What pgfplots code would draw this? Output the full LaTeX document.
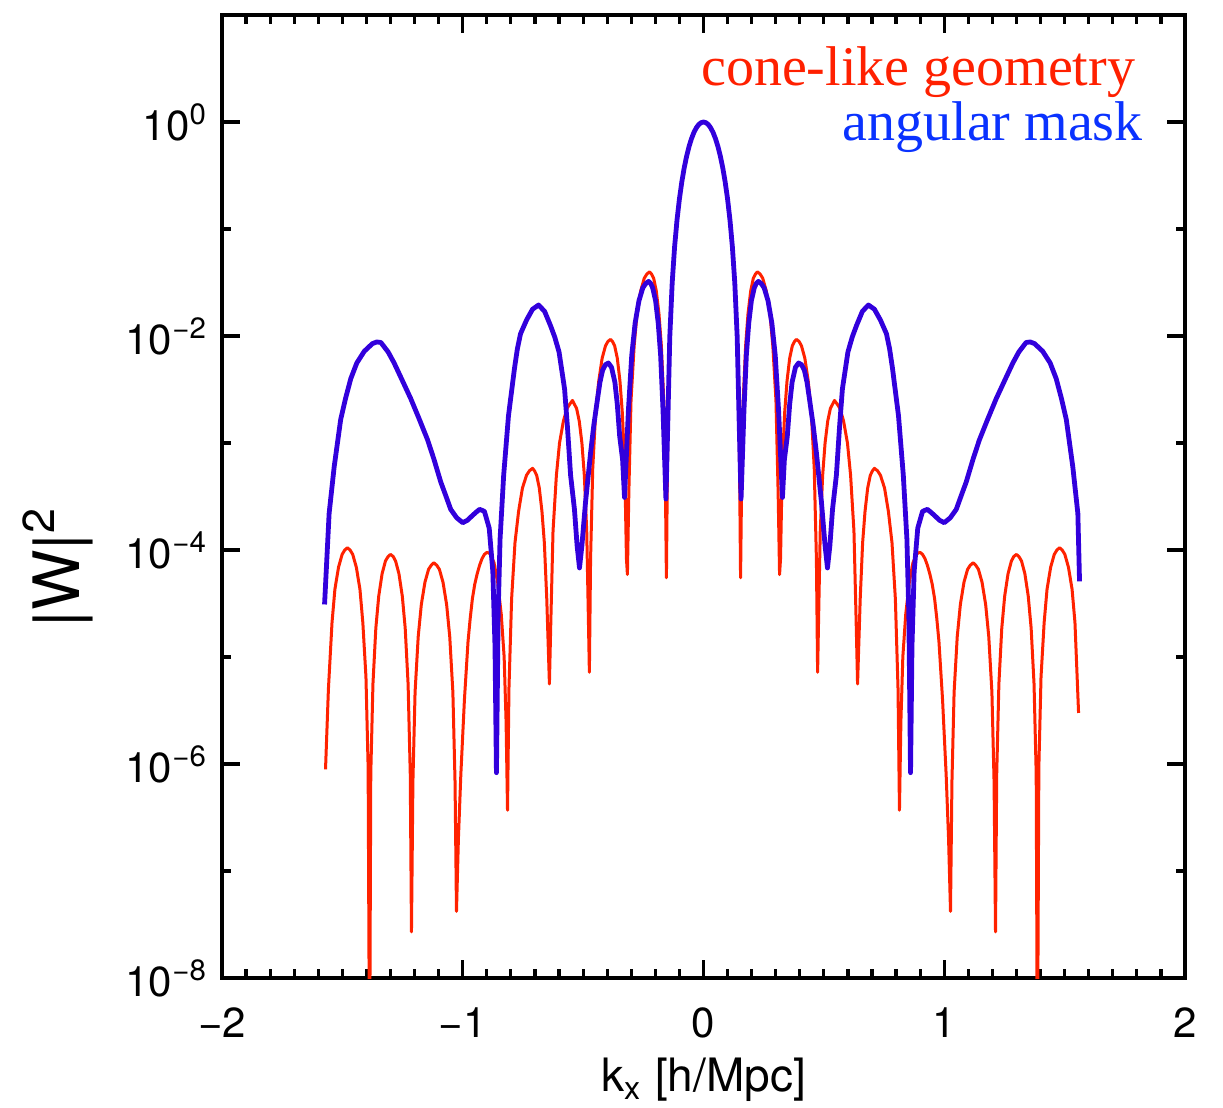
\documentclass[border=0pt]{standalone}
\usepackage{fontspec}
\setmainfont{TeX Gyre Heros}
\newfontfamily\legendfont{Liberation Serif}
\usepackage{pgfplots}
\pgfplotsset{compat=1.18}
\usepackage{pgfplotstable}
\definecolor{curvered}{RGB}{255,34,0}
\definecolor{curveblue}{RGB}{50,0,220}
\definecolor{legred}{RGB}{255,32,0}
\definecolor{legblue}{RGB}{10,50,255}

\pgfplotstableread{
k W
-1.570 8.9e-7
-1.558 5.0e-6
-1.543 2.1e-5
-1.531 4.3e-5
-1.516 6.9e-5
-1.501 9.1e-5
-1.490 1.0e-4
-1.479 1.05e-4
-1.468 1.0e-4
-1.457 9.1e-5
-1.442 6.9e-5
-1.427 4.3e-5
-1.415 2.1e-5
-1.402 6.5e-6
-1.393 9.3e-7
-1.387 1e-9
-1.382 8.1e-7
-1.373 5.6e-6
-1.361 1.86e-5
-1.349 3.7e-5
-1.335 6.0e-5
-1.321 7.9e-5
-1.310 8.7e-5
-1.300 9.1e-5
-1.289 8.7e-5
-1.279 7.9e-5
-1.265 6.0e-5
-1.251 3.7e-5
-1.239 1.86e-5
-1.227 5.6e-6
-1.218 8.1e-7
-1.213 2.7e-8
-1.207 6.8e-7
-1.198 4.7e-6
-1.185 1.55e-5
-1.172 3.1e-5
-1.157 5.0e-5
-1.142 6.6e-5
-1.131 7.2e-5
-1.120 7.6e-5
-1.108 7.2e-5
-1.097 6.6e-5
-1.082 5.0e-5
-1.067 3.1e-5
-1.054 1.55e-5
-1.041 4.7e-6
-1.032 6.8e-7
-1.026 4.2e-8
-1.018 2.0e-7
-1.008 7.9e-7
-0.993 4.0e-6
-0.978 1.4e-5
-0.969 2.3e-5
-0.960 3.5e-5
-0.950 4.8e-5
-0.940 6.0e-5
-0.930 7.2e-5
-0.920 8.3e-5
-0.910 9.1e-5
-0.900 9.5e-5
-0.892 9.4e-5
-0.885 9.1e-5
-0.870 7.6e-5
-0.855 5.0e-5
-0.840 2.5e-5
-0.828 1.0e-5
-0.820 2.5e-6
-0.814 3.7e-7
-0.808 5.1e-6
-0.797 3.5e-5
-0.783 1.17e-4
-0.768 2.3e-4
-0.752 3.8e-4
-0.735 5.0e-4
-0.723 5.5e-4
-0.710 5.8e-4
-0.702 5.5e-4
-0.693 5.0e-4
-0.682 3.8e-4
-0.671 2.3e-4
-0.661 1.17e-4
-0.651 3.5e-5
-0.640 5.6e-6
-0.634 2.2e-5
-0.625 1.5e-4
-0.611 5.0e-4
-0.598 1.0e-3
-0.582 1.6e-3
-0.567 2.1e-3
-0.556 2.3e-3
-0.544 2.5e-3
-0.536 2.3e-3
-0.527 2.1e-3
-0.516 1.6e-3
-0.505 1.0e-3
-0.495 5.0e-4
-0.485 1.5e-4
-0.478 2.2e-5
-0.474 7.2e-6
-0.469 8.3e-5
-0.460 5.8e-4
-0.448 1.9e-3
-0.435 3.8e-3
-0.421 6.2e-3
-0.407 8.1e-3
-0.397 8.9e-3
-0.386 9.3e-3
-0.378 8.9e-3
-0.369 8.1e-3
-0.358 6.2e-3
-0.347 3.8e-3
-0.337 1.9e-3
-0.327 5.8e-4
-0.320 8.3e-5
-0.316 5.9e-5
-0.310 3.5e-4
-0.301 2.5e-3
-0.288 8.1e-3
-0.276 0.0162
-0.261 0.0263
-0.246 0.0347
-0.235 0.0380
-0.224 0.0398
-0.216 0.0380
-0.207 0.0347
-0.196 0.0263
-0.185 0.0162
-0.175 8.1e-3
-0.165 2.5e-3
-0.158 3.5e-4
-0.154 5.5e-5
-0.148 0.00164
-0.140 0.0098
-0.130 0.0314
-0.120 0.0682
-0.110 0.1212
-0.100 0.191
-0.090 0.276
-0.080 0.374
-0.070 0.480
-0.060 0.590
-0.050 0.698
-0.040 0.797
-0.030 0.8815
-0.020 0.946
-0.010 0.986
0.000 1
0.010 0.986
0.020 0.946
0.030 0.8815
0.040 0.797
0.050 0.698
0.060 0.590
0.070 0.480
0.080 0.374
0.090 0.276
0.100 0.191
0.110 0.1212
0.120 0.0682
0.130 0.0314
0.140 0.0098
0.148 0.00164
0.154 5.5e-5
0.158 3.5e-4
0.165 2.5e-3
0.175 8.1e-3
0.185 0.0162
0.196 0.0263
0.207 0.0347
0.216 0.0380
0.224 0.0398
0.235 0.0380
0.246 0.0347
0.261 0.0263
0.276 0.0162
0.288 8.1e-3
0.301 2.5e-3
0.310 3.5e-4
0.316 5.9e-5
0.320 8.3e-5
0.327 5.8e-4
0.337 1.9e-3
0.347 3.8e-3
0.358 6.2e-3
0.369 8.1e-3
0.378 8.9e-3
0.386 9.3e-3
0.397 8.9e-3
0.407 8.1e-3
0.421 6.2e-3
0.435 3.8e-3
0.448 1.9e-3
0.460 5.8e-4
0.469 8.3e-5
0.474 7.2e-6
0.478 2.2e-5
0.485 1.5e-4
0.495 5.0e-4
0.505 1.0e-3
0.516 1.6e-3
0.527 2.1e-3
0.536 2.3e-3
0.544 2.5e-3
0.556 2.3e-3
0.567 2.1e-3
0.582 1.6e-3
0.598 1.0e-3
0.611 5.0e-4
0.625 1.5e-4
0.634 2.2e-5
0.640 5.6e-6
0.651 3.5e-5
0.661 1.17e-4
0.671 2.3e-4
0.682 3.8e-4
0.693 5.0e-4
0.702 5.5e-4
0.710 5.8e-4
0.723 5.5e-4
0.735 5.0e-4
0.752 3.8e-4
0.768 2.3e-4
0.783 1.17e-4
0.797 3.5e-5
0.808 5.1e-6
0.814 3.7e-7
0.820 2.5e-6
0.828 1.0e-5
0.840 2.5e-5
0.855 5.0e-5
0.870 7.6e-5
0.885 9.1e-5
0.892 9.4e-5
0.900 9.5e-5
0.910 9.1e-5
0.920 8.3e-5
0.930 7.2e-5
0.940 6.0e-5
0.950 4.8e-5
0.960 3.5e-5
0.969 2.3e-5
0.978 1.4e-5
0.993 4.0e-6
1.008 7.9e-7
1.018 2.0e-7
1.026 4.2e-8
1.032 6.8e-7
1.041 4.7e-6
1.054 1.55e-5
1.067 3.1e-5
1.082 5.0e-5
1.097 6.6e-5
1.108 7.2e-5
1.120 7.6e-5
1.131 7.2e-5
1.142 6.6e-5
1.157 5.0e-5
1.172 3.1e-5
1.185 1.55e-5
1.198 4.7e-6
1.207 6.8e-7
1.213 2.7e-8
1.218 8.1e-7
1.227 5.6e-6
1.239 1.86e-5
1.251 3.7e-5
1.265 6.0e-5
1.279 7.9e-5
1.289 8.7e-5
1.300 9.1e-5
1.310 8.7e-5
1.321 7.9e-5
1.335 6.0e-5
1.349 3.7e-5
1.361 1.86e-5
1.373 5.6e-6
1.382 8.1e-7
1.387 1e-9
1.393 9.3e-7
1.402 6.5e-6
1.415 2.1e-5
1.427 4.3e-5
1.442 6.9e-5
1.457 9.1e-5
1.468 1.0e-4
1.479 1.05e-4
1.490 1.0e-4
1.501 9.1e-5
1.516 6.9e-5
1.531 4.3e-5
1.543 2.1e-5
1.558 3.0e-6
}\redtable

\pgfplotstableread{
k W
-1.574 3.1e-5
-1.555 2.2e-4
-1.534 6.0e-4
-1.507 1.66e-3
-1.487 2.6e-3
-1.465 4.0e-3
-1.440 5.6e-3
-1.409 7.2e-3
-1.375 8.5e-3
-1.357 8.8e-3
-1.340 8.7e-3
-1.310 7.1e-3
-1.285 5.6e-3
-1.250 3.8e-3
-1.216 2.6e-3
-1.180 1.66e-3
-1.146 1.07e-3
-1.120 7.1e-4
-1.091 4.3e-4
-1.070 3.2e-4
-1.050 2.4e-4
-1.025 2.0e-4
-1.000 1.8e-4
-0.980 1.9e-4
-0.960 2.1e-4
-0.945 2.25e-4
-0.930 2.4e-4
-0.910 2.3e-4
-0.890 1.6e-4
-0.875 6.3e-5
-0.866 1.26e-5
-0.860 8.3e-7
-0.853 2.5e-5
-0.845 1.26e-4
-0.830 5.0e-4
-0.810 1.8e-3
-0.785 5.0e-3
-0.773 7.6e-3
-0.760 0.0105
-0.735 0.0141
-0.710 0.0178
-0.685 0.0195
-0.660 0.0170
-0.636 0.0126
-0.618 9.8e-3
-0.600 7.1e-3
-0.577 3.2e-3
-0.565 1.4e-3
-0.552 5.0e-4
-0.536 2.4e-4
-0.525 1.1e-4
-0.515 6.8e-5
-0.505 1.1e-4
-0.490 2.8e-4
-0.469 8.1e-4
-0.455 1.5e-3
-0.440 2.6e-3
-0.430 3.7e-3
-0.419 4.8e-3
-0.407 5.4e-3
-0.395 5.6e-3
-0.382 5.1e-3
-0.368 3.7e-3
-0.358 2.3e-3
-0.348 1.15e-3
-0.336 7.0e-4
-0.328 3.1e-4
-0.312 2.0e-3
-0.298 6.6e-3
-0.284 0.0132
-0.268 0.0214
-0.252 0.0282
-0.240 0.0309
-0.228 0.0324
-0.219 0.0309
-0.211 0.0282
-0.199 0.0214
-0.188 0.0132
-0.178 6.6e-3
-0.168 2.0e-3
-0.156 3.0e-4
-0.148 0.00164
-0.140 0.0098
-0.130 0.0314
-0.120 0.0682
-0.110 0.1212
-0.100 0.191
-0.090 0.276
-0.080 0.374
-0.070 0.480
-0.060 0.590
-0.050 0.698
-0.040 0.797
-0.030 0.8815
-0.020 0.946
-0.010 0.986
0.000 1
0.010 0.986
0.020 0.946
0.030 0.8815
0.040 0.797
0.050 0.698
0.060 0.590
0.070 0.480
0.080 0.374
0.090 0.276
0.100 0.191
0.110 0.1212
0.120 0.0682
0.130 0.0314
0.140 0.0098
0.148 0.00164
0.156 3.0e-4
0.168 2.0e-3
0.178 6.6e-3
0.188 0.0132
0.199 0.0214
0.211 0.0282
0.219 0.0309
0.228 0.0324
0.240 0.0309
0.252 0.0282
0.268 0.0214
0.284 0.0132
0.298 6.6e-3
0.312 2.0e-3
0.328 3.1e-4
0.336 7.0e-4
0.348 1.15e-3
0.358 2.3e-3
0.368 3.7e-3
0.382 5.1e-3
0.395 5.6e-3
0.407 5.4e-3
0.419 4.8e-3
0.430 3.7e-3
0.440 2.6e-3
0.455 1.5e-3
0.469 8.1e-4
0.490 2.8e-4
0.505 1.1e-4
0.515 6.8e-5
0.525 1.1e-4
0.536 2.4e-4
0.552 5.0e-4
0.565 1.4e-3
0.577 3.2e-3
0.600 7.1e-3
0.618 9.8e-3
0.636 0.0126
0.660 0.0170
0.685 0.0195
0.710 0.0178
0.735 0.0141
0.760 0.0105
0.773 7.6e-3
0.785 5.0e-3
0.810 1.8e-3
0.830 5.0e-4
0.845 1.26e-4
0.853 2.5e-5
0.860 8.3e-7
0.866 1.26e-5
0.875 6.3e-5
0.890 1.6e-4
0.910 2.3e-4
0.930 2.4e-4
0.945 2.25e-4
0.960 2.1e-4
0.980 1.9e-4
1.000 1.8e-4
1.025 2.0e-4
1.050 2.4e-4
1.070 3.2e-4
1.091 4.3e-4
1.120 7.1e-4
1.146 1.07e-3
1.180 1.66e-3
1.216 2.6e-3
1.250 3.8e-3
1.285 5.6e-3
1.310 7.1e-3
1.340 8.7e-3
1.357 8.8e-3
1.375 8.5e-3
1.409 7.2e-3
1.440 5.6e-3
1.465 4.0e-3
1.487 2.6e-3
1.507 1.66e-3
1.534 6.0e-4
1.555 2.2e-4
1.562 5.1e-5
}\bluetable

\begin{document}
\begin{tikzpicture}
\useasboundingbox (-55.5pt,-32.25pt) rectangle (250.25pt,244.5pt);
\begin{axis}[
  at={(0pt,0pt)}, anchor=south west,
  width=240.75pt, height=240.75pt, scale only axis,
  xmin=-2, xmax=2,
  ymode=log, ymin=1e-8, ymax=10,
  xtick={-2,-1,0,1,2},
  xticklabels={−2,−1,0,1,2},
  minor x tick num=9,
  ytick={1e-8,1e-6,1e-4,1e-2,1},
  yticklabels={10\textsuperscript{−8},10\textsuperscript{−6},10\textsuperscript{−4},10\textsuperscript{−2},10\textsuperscript{0}},
  minor ytick={1e-7,1e-5,1e-3,1e-1},
  tick align=inside,
  major tick length=4.5pt,
  minor tick length=2.2pt,
  every tick/.style={black, line width=0.8pt},
  axis line style={black, line width=1pt},
  tick label style={font=\fontsize{10.5}{12}\selectfont},
  xticklabel style={yshift=-4pt},
  xlabel={k\textsubscript{x} [h/Mpc]},
  ylabel={|W|\textsuperscript{2}},
  xlabel style={at={(axis description cs:0.5,-0.106)}, anchor=center, font=\fontsize{11.5}{13}\selectfont},
  ylabel style={at={(axis description cs:-0.17,0.427)}, anchor=center, font=\fontsize{16}{18}\selectfont},
]
\addplot[curvered, line width=0.75pt, line join=round] table[x=k, y=W] {\redtable};
\addplot[curveblue, line width=1.2pt, line join=round] table[x=k, y=W] {\bluetable};
\node[anchor=base east, text=legred, font=\legendfont\fontsize{14}{16}\selectfont, inner sep=0pt] at (axis description cs:0.949,0.927) {cone-like geometry};
\node[anchor=base east, text=legblue, font=\legendfont\fontsize{14}{16}\selectfont, inner sep=0pt] at (axis description cs:0.957,0.870) {angular mask};
\end{axis}
\end{tikzpicture}
\end{document}
